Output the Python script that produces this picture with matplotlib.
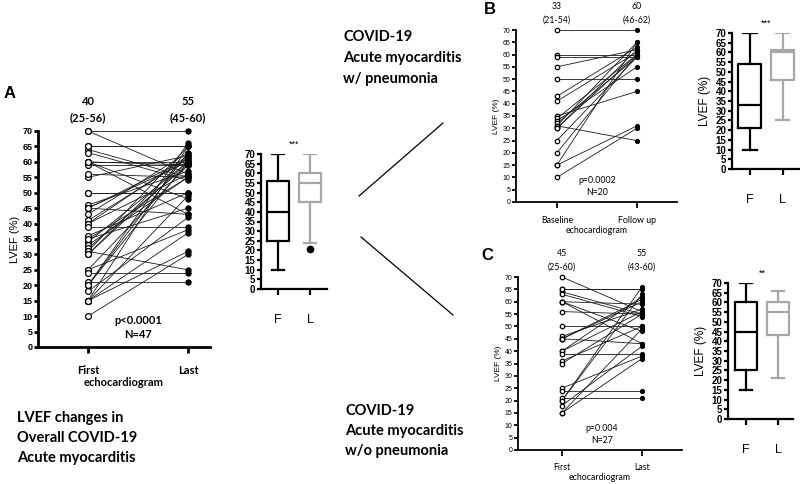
import matplotlib
matplotlib.use("Agg")
import matplotlib.pyplot as plt
from matplotlib.lines import Line2D

# LVEF (%) paired values, first -> last echocardiogram
# B: with pneumonia (n=20)
b_first = [70, 60, 59, 55, 50, 43, 41, 35, 34, 33, 32, 31, 31, 30, 30, 25, 20, 15, 15, 10]
b_last = [70, 60, 59, 62, 50, 63, 61, 45, 60, 55, 59, 25, 65, 60, 62, 59, 60, 65, 31, 30]
# C: without pneumonia (n=27)
c_first = [70, 65, 64, 63, 60, 56, 50, 46, 45, 45, 45, 40, 40, 39, 36, 35, 25, 24, 21, 20,
           20, 18, 15, 65, 60, 60, 15]
c_last = [56, 65, 55, 54, 59, 55, 50, 57, 60, 43, 61, 62, 56, 39, 50, 55, 38, 24, 21, 66,
          63, 42, 49, 65, 48, 43, 37]
# A: overall (n=47) = B + C
a_first = b_first + c_first
a_last = b_last + c_last

# box stats: whislo, q1, med, q3, whishi
box_a_f = [10, 25, 40, 56, 70]
box_a_l = [24, 45, 55, 60, 70]
box_a_l_fliers = [21]
box_b_f = [10, 21, 33, 54, 70]
box_b_l = [25, 46, 60, 61.5, 70]
box_c_f = [15, 25, 45, 60, 70]
box_c_l = [21, 43, 55, 60, 66]

yticks = list(range(0, 71, 5))

W, H = 800, 484
ARIAL = "Liberation Sans"
CAL = "Lato"
plt.rcParams["font.family"] = ARIAL

fig = plt.figure(figsize=(8, 4.84), dpi=100)


def ax_at(x0, x1, y_top, y_bot):
    return fig.add_axes([x0 / W, 1 - y_bot / H, (x1 - x0) / W, (y_bot - y_top) / H])


def ftext(x, y, s, **kw):
    fig.text(x / W, 1 - y / H, s, va="baseline", **kw)


def base_axis(ax, lw, tsize, tlen, bold):
    ax.spines["top"].set_visible(False)
    ax.spines["right"].set_visible(False)
    ax.spines["left"].set_linewidth(lw)
    ax.spines["bottom"].set_linewidth(lw)
    ax.set_ylim(0, 70)
    ax.set_yticks(yticks, labels=[str(t) for t in yticks],
                  fontweight="bold" if bold else "normal")
    ax.tick_params(axis="y", length=tlen, width=lw, labelsize=tsize, pad=1)
    ax.patch.set_alpha(0)


def paired(ax, first, last, names, med_txt, p_txt, lw, tsize, ms, fs, lab_fs, lab_pad, bold):
    base_axis(ax, lw, tsize, 3, bold)
    wt = "bold" if bold else "normal"
    for f, l in zip(first, last):
        ax.plot([0, 1], [f, l], color="#1a1a1a", lw=0.6, zorder=1)
    ax.plot([0] * len(first), first, "o", mfc="white", mec="black", ms=ms, mew=0.9,
            clip_on=False, zorder=3)
    ax.plot([1] * len(last), last, "o", color="black", ms=ms * 0.85, clip_on=False, zorder=3)
    ax.set_xticks([0, 1])
    ax.set_xticklabels(names, family=CAL, fontsize=fs, fontweight=wt)
    ax.tick_params(axis="x", length=4, width=lw, pad=lab_pad)
    ax.set_xlabel("echocardiogram", family=CAL, fontsize=fs, fontweight=wt, labelpad=1)
    ax.set_ylabel("LVEF (%)", fontsize=lab_fs, labelpad=2)
    kw = dict(ha="center", va="center", family=CAL, fontsize=fs, fontweight=wt)
    for x, (m, r) in zip([0, 1], med_txt):
        ax.text(x, 79.5, m, **kw)
        ax.text(x, 74.2, r, **kw)
    ax.text(0.5, 8.7, p_txt[0], **kw)
    ax.text(0.5, 4.0, p_txt[1], **kw)


def box(ax, st_f, st_l, fliers_l, stars, ylab, xpad, capw):
    base_axis(ax, 1.6, 7, 3, True)
    for st, fl, pos, col in [(st_f, [], 1, "black"), (st_l, fliers_l, 2, "#a6a6a6")]:
        stats = [dict(whislo=st[0], q1=st[1], med=st[2], q3=st[3], whishi=st[4], fliers=fl)]
        lp = dict(color=col, lw=1.6)
        ax.bxp(stats, positions=[pos], widths=0.7, capwidths=capw, boxprops=lp,
               whiskerprops=lp, capprops=lp, medianprops=lp,
               flierprops=dict(marker="o", mfc="black", mec="black", ms=4.5))
    ax.set_ylim(0, 70)
    ax.set_xticks([1, 2])
    ax.set_xticklabels(["F", "L"], fontsize=9)
    ax.tick_params(axis="x", length=4, width=1.6, pad=xpad)
    ax.text(1.5, 75, stars, ha="center", va="center", fontsize=6.5)
    if ylab:
        ax.set_ylabel("LVEF (%)", fontsize=8.5, labelpad=3)


# panel A
axA = ax_at(38, 210, 131, 347)
axA.set_xlim(-0.5, 1.22)
paired(axA, a_first, a_last, ["First", "Last"], [("40", "(25-56)"), ("55", "(45-60)")],
       ("p<0.0001", "N=47"), 2.0, 6.5, 4.2, 8, 8, 9, True)
axAb = ax_at(261, 327, 154, 289)
box(axAb, box_a_f, box_a_l, box_a_l_fliers, "***", False, 14, 0.4)
axAb.set_xlim(0.47, 2.53)

# panel B
axB = ax_at(516, 677, 30, 202)
axB.set_xlim(-0.51, 1.5)
paired(axB, b_first, b_last, ["Baseline", "Follow up"], [("33", "(21-54)"), ("60", "(46-62)")],
       ("p=0.0002", "N=20"), 1.3, 5, 3.2, 6.3, 6, 6, False)
axBb = ax_at(732, 800, 33, 169)
box(axBb, box_b_f, box_b_l, [], "***", True, 14, 0.4)
axBb.set_xlim(0.455, 2.52)

# panel C
axC = ax_at(518, 682, 277, 450)
axC.set_xlim(-0.55, 1.5)
paired(axC, c_first, c_last, ["First", "Last"], [("45", "(25-60)"), ("55", "(43-60)")],
       ("p=0.004", "N=27"), 1.3, 5, 3.2, 6.3, 6, 5, False)
axCb = ax_at(728, 793, 283, 419)
box(axCb, box_c_f, box_c_l, [], "**", True, 14, 0.4)
axCb.set_xlim(0.44, 2.47)

# panel letters
ftext(4, 98, "A", fontsize=12, fontweight="bold")
ftext(484, 14, "B", fontsize=12, fontweight="bold")
ftext(481, 260, "C", fontsize=12, fontweight="bold")

# connector lines
fig.add_artist(Line2D([359 / W, 443 / W], [1 - 196 / H, 1 - 123 / H], color="black", lw=0.9))
fig.add_artist(Line2D([361 / W, 453 / W], [1 - 237 / H, 1 - 315 / H], color="black", lw=0.9))

# group captions
cap = dict(family=CAL, fontsize=10.5, fontweight="bold")
for i, s in enumerate(["COVID-19", "Acute myocarditis", "w/ pneumonia"]):
    ftext(343, 41 + 21 * i, s, **cap)
for i, s in enumerate(["COVID-19", "Acute myocarditis", "w/o pneumonia"]):
    ftext(345, 415 + 20 * i, s, **cap)
for i, s in enumerate(["LVEF changes in", "Overall COVID-19", "Acute myocarditis"]):
    ftext(17, 422 + 20 * i, s, **cap)

fig.savefig("out.png", dpi=100)
